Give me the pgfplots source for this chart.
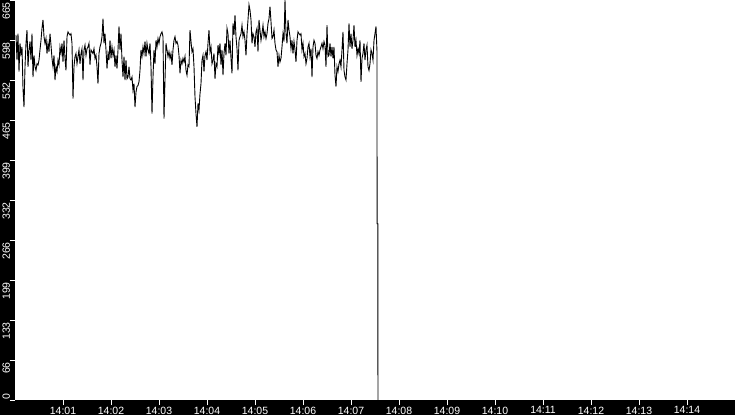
\documentclass[border=0pt]{standalone}
\usepackage{pgfplots}
\pgfplotsset{compat=1.18}
\usepackage{fontspec}
\setmainfont{Liberation Sans}
\begin{document}
\begin{tikzpicture}
\fill[black] (0,0) rectangle (735pt,415pt);
\begin{axis}[
  at={(15pt,15pt)}, anchor=south west, scale only axis,
  width=720pt, height=400pt,
  xmin=0, xmax=900, ymin=0, ymax=665,
  axis background/.style={fill=white},
  axis line style={draw=none},
  tick align=outside, tick pos=left,
  major tick length=5pt,
  tick style={white, line width=0.8pt},
  xtick={60,120,180,240,300,360,420,480,540,600,660,720,780,840},
  xticklabels={14:01,14:02,14:03,14:04,14:05,14:06,14:07,14:08,14:09,14:10,14:11,14:12,14:13,14:14},
  ytick={66.5,133,199.5,266,332.5,399,465.5,532,598.5,665},
  yticklabels={66,133,199,266,332,399,465,532,598,665},
  extra y ticks={0}, extra y tick labels={0},
  extra y tick style={yticklabel style={anchor=base west, xshift=2pt}},
  ticklabel style={white, font=\fontsize{10.5}{12}\selectfont},
  yticklabel style={rotate=90, anchor=base east, inner sep=0pt, xshift=-2pt},
  xticklabel style={anchor=north, inner sep=0pt, yshift=-1.5pt},
]
\addplot[black, line width=0.9pt] coordinates {
(1.25,607)(2.5,565)(3.75,609)(5,546)(6.25,593)(7.5,576)(8.75,587)(10,518)(11.25,487)(12.5,554)
(13.75,593)(15,615)(16.25,554)(17.5,582)(18.75,596)(20,565)(21.25,609)(22.5,537)(23.75,573)(25,554)
(26.25,548)(27.5,559)(28.75,557)(30,565)(31.25,582)(32.5,598)(33.75,618)(35,632)(36.25,604)(37.5,593)
(38.75,601)(40,576)(41.25,593)(42.5,579)(43.75,609)(45,590)(46.25,568)(47.5,554)(48.75,573)(50,532)
(51.25,554)(52.5,546)(53.75,565)(55,557)(56.25,587)(57.5,576)(58.75,593)(60,562)(61.25,598)(62.5,568)
(63.75,548)(65,604)(66.25,612)(67.5,609)(68.75,607)(70,609)(71.25,593)(72.5,501)(73.75,554)(75,571)
(76.25,576)(77.5,559)(78.75,571)(80,582)(81.25,559)(82.5,576)(83.75,584)(85,532)(86.25,582)(87.5,590)
(88.75,573)(90,584)(91.25,587)(92.5,593)
(93.75,557)(95,582)(96.25,579)(97.5,576)(98.75,584)(100,568)(101.25,573)(102.5,554)(103.75,526)(105,576)
(106.25,587)(107.5,593)(108.75,604)(110,634)(111.25,593)(112.5,609)(113.75,582)(115,551)(116.25,576)(117.5,565)
(118.75,598)(120,568)(121.25,587)(122.5,573)(123.75,582)(125,554)(126.25,573)(127.5,551)(128.75,582)(130,621)
(131.25,582)(132.5,609)(133.75,565)(135,537)(136.25,571)(137.5,532)(138.75,565)(140,534)(141.25,537)(142.5,554)
(143.75,534)(145,532)(146.25,537)(147.5,515)(148.75,526)(150,487)(151.25,512)(152.5,521)(153.75,523)(155,529)
(156.25,548)(157.5,582)(158.75,571)(160,587)(161.25,576)(162.5,596)(163.75,571)(165,593)(166.25,582)(167.5,576)
(168.75,593)(170,554)(171.25,476)(172.5,537)(173.75,582)(175,559)(176.25,598)(177.5,587)(178.75,601)(180,593)
(181.25,604)(182.5,609)(183.75,612)(185,604)
(186.25,468)(187.5,532)(188.75,593)(190,582)(191.25,571)(192.5,579)(193.75,568)(195,576)(196.25,557)(197.5,582)
(198.75,598)(200,604)(201.25,593)(202.5,596)(203.75,590)(205,573)(206.25,543)(207.5,565)(208.75,559)(210,568)
(211.25,562)(212.5,571)(213.75,548)(215,540)(216.25,557)(217.5,554)(218.75,615)(220,596)(221.25,579)(222.5,584)
(223.75,554)(225,504)(226.25,476)(227.5,454)(228.75,493)(230,482)(231.25,509)(232.5,526)(233.75,565)(235,573)
(236.25,546)(237.5,573)(238.75,579)(240,565)(241.25,593)(242.5,615)(243.75,579)(245,587)(246.25,559)(247.5,565)
(248.75,576)(250,534)(251.25,559)(252.5,554)(253.75,590)(255,576)(256.25,593)(257.5,557)(258.75,582)(260,540)
(261.25,576)(262.5,593)(263.75,573)(265,618)(266.25,609)(267.5,576)(268.75,598)(270,568)(271.25,543)(272.5,626)
(273.75,607)(275,640)(276.25,604)(277.5,584)
(278.75,548)(280,598)(281.25,604)(282.5,609)(283.75,623)(285,604)(286.25,612)(287.5,598)(288.75,573)(290,609)
(291.25,632)(292.5,657)(293.75,648)(295,632)(296.25,593)(297.5,609)(298.75,604)(300,587)(301.25,612)(302.5,618)
(303.75,579)(305,632)(306.25,615)(307.5,598)(308.75,609)(310,623)(311.25,604)(312.5,612)(313.75,601)(315,609)
(316.25,626)(317.5,634)(318.75,654)(320,629)(321.25,601)(322.5,604)(323.75,615)(325,593)(326.25,582)(327.5,579)
(328.75,554)(330,573)(331.25,562)(332.5,568)(333.75,587)(335,609)(336.25,596)(337.5,665)(338.75,609)(340,593)
(341.25,632)(342.5,615)(343.75,604)(345,584)(346.25,598)(347.5,576)(348.75,596)(350,582)(351.25,562)(352.5,598)
(353.75,612)(355,609)(356.25,607)(357.5,609)(358.75,582)(360,593)(361.25,571)(362.5,576)(363.75,559)(365,568)
(366.25,587)(367.5,593)(368.75,571)(370,584)
(371.25,537)(372.5,587)(373.75,598)(375,593)(376.25,573)(377.5,568)(378.75,579)(380,573)(381.25,582)(382.5,587)
(383.75,593)(385,584)(386.25,596)(387.5,590)(388.75,554)(390,623)(391.25,571)(392.5,573)(393.75,593)(395,571)
(396.25,587)(397.5,568)(398.75,587)(400,540)(401.25,521)(402.5,554)(403.75,546)(405,559)(406.25,565)(407.5,554)
(408.75,582)(410,612)(411.25,548)(412.5,537)(413.75,532)(415,559)(416.25,582)(417.5,626)(418.75,587)(420,609)
(421.25,584)(422.5,598)(423.75,623)(425,587)(426.25,598)(427.5,573)(428.75,584)(430,576)(431.25,598)(432.5,529)
(433.75,568)(435,576)(436.25,593)(437.5,565)(438.75,582)(440,590)(441.25,554)(442.5,548)(443.75,559)(445,582)
(446.25,576)(447.5,565)(448.75,598)(450,609)(451.25,621)(452.5,579)
(452.6,293)(453.6,293)(453.7,0)
};
\end{axis}
\pgfresetboundingbox
\useasboundingbox (0,0) rectangle (735pt,415pt);
\end{tikzpicture}
\end{document}
